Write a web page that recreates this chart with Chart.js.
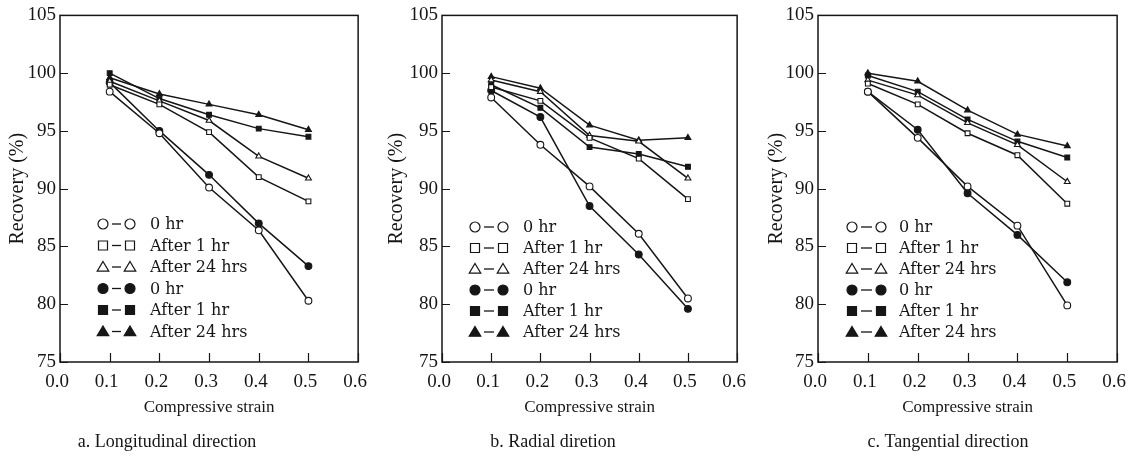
<!DOCTYPE html>
<html><head><meta charset="utf-8">
<script src="https://cdn.jsdelivr.net/npm/chart.js@4/dist/chart.umd.min.js"></script>
<style>
html,body{margin:0;padding:0;background:#fff;}
#wrap{position:relative;width:1138px;height:460px;overflow:hidden;}
.pane{position:absolute;top:0;height:460px;}
</style></head><body>
<div id="wrap">
<div class="pane" style="left:0px;width:379px"><canvas id="ca" width="379" height="460"></canvas></div>
<div class="pane" style="left:379px;width:379px"><canvas id="cb" width="379" height="460"></canvas></div>
<div class="pane" style="left:758px;width:380px"><canvas id="cc" width="380" height="460"></canvas></div>
</div>
<script>
// ---- data ----
const strain = [0.1, 0.2, 0.3, 0.4, 0.5];
const xTickLabels = ['0.0', '0.1', '0.2', '0.3', '0.4', '0.5', '0.6'];
const yTickValues = [75, 80, 85, 90, 95, 100, 105];
const seriesLabels = ['0 hr', 'After 1 hr', 'After 24 hrs', '0 hr', 'After 1 hr', 'After 24 hrs'];
const captions = ['a. Longitudinal direction', 'b. Radial diretion', 'c. Tangential direction'];
const xAxisTitle = 'Compressive strain';
const yAxisTitle = 'Recovery (%)';

// a. Longitudinal
const longOpen0 = [98.4, 94.8, 90.1, 86.4, 80.3];
const longOpen1 = [99.0, 97.3, 94.9, 91.0, 88.9];
const longOpen24 = [99.3, 97.6, 95.9, 92.8, 90.9];
const longFilled0 = [99.2, 95.0, 91.2, 87.0, 83.3];
const longFilled1 = [100.0, 97.8, 96.4, 95.2, 94.5];
const longFilled24 = [99.6, 98.2, 97.3, 96.4, 95.1];

// b. Radial
const radOpen0 = [97.9, 93.8, 90.2, 86.1, 80.5];
const radOpen1 = [98.8, 97.6, 94.4, 92.6, 89.1];
const radOpen24 = [99.4, 98.4, 94.6, 94.1, 90.9];
const radFilled0 = [98.5, 96.2, 88.5, 84.3, 79.6];
const radFilled1 = [99.0, 97.0, 93.6, 93.0, 91.9];
const radFilled24 = [99.7, 98.7, 95.5, 94.2, 94.4];

// c. Tangential
const tanOpen0 = [98.4, 94.4, 90.2, 86.8, 79.9];
const tanOpen1 = [99.1, 97.3, 94.8, 92.9, 88.7];
const tanOpen24 = [99.4, 98.1, 95.7, 93.8, 90.6];
const tanFilled0 = [98.4, 95.1, 89.6, 86.0, 81.9];
const tanFilled1 = [99.8, 98.4, 96.0, 94.1, 92.7];
const tanFilled24 = [100.0, 99.3, 96.8, 94.7, 93.7];

// ---- styling ----
const INK = '#161616';
const SERIF = '"Liberation Serif", "DejaVu Serif", serif';
const LEG_FONT = '16px "DejaVu Serif", "Liberation Serif", serif';
const markerStyles = [
  ['circle', '#ffffff'], ['rect', '#ffffff'], ['triangle', '#ffffff'],
  ['circle', INK], ['rect', INK], ['triangle', INK]
];

function drawMarker(ctx, style, fill, x, y, r) {
  ctx.beginPath();
  if (style === 'circle') {
    ctx.arc(x, y, r, 0, Math.PI * 2);
  } else if (style === 'rect') {
    const s = r * 0.9;
    ctx.rect(x - s, y - s, 2 * s, 2 * s);
  } else {
    const h = r * 1.1;
    ctx.moveTo(x, y - h);
    ctx.lineTo(x + h * 1.05, y + h * 0.75);
    ctx.lineTo(x - h * 1.05, y + h * 0.75);
    ctx.closePath();
  }
  ctx.fillStyle = fill;
  ctx.fill();
  ctx.lineWidth = 1.2;
  ctx.strokeStyle = INK;
  ctx.stroke();
}

const frameTicks = {
  id: 'frameTicks',
  beforeDatasetsDraw(chart) {
    const {ctx, chartArea: a, scales: {x, y}} = chart;
    ctx.save();
    ctx.strokeStyle = INK;
    ctx.lineWidth = 1.5;
    ctx.strokeRect(a.left, a.top, a.right - a.left, a.bottom - a.top);
    ctx.lineWidth = 1.2;
    ctx.beginPath();
    y.ticks.forEach(t => {
      const py = Math.round(y.getPixelForValue(t.value)) + 0.5;
      ctx.moveTo(a.left, py); ctx.lineTo(a.left + 8, py);
    });
    x.ticks.forEach(t => {
      const px = Math.round(x.getPixelForValue(t.value)) + 0.5;
      ctx.moveTo(px, a.bottom); ctx.lineTo(px, a.bottom - 9);
    });
    ctx.stroke();
    ctx.restore();
  }
};

const inLegend = {
  id: 'inLegend',
  afterDatasetsDraw(chart, args, o) {
    const {ctx, chartArea: a} = chart;
    ctx.save();
    chart.data.datasets.forEach((ds, i) => {
      const yy = o.top + i * o.step;
      const x1 = a.left + o.m1, x2 = a.left + o.m2;
      ctx.strokeStyle = INK; ctx.lineWidth = 1.3;
      ctx.beginPath(); ctx.moveTo(x1 + 9, yy); ctx.lineTo(x2 - 9, yy); ctx.stroke();
      drawMarker(ctx, markerStyles[i][0], markerStyles[i][1], x1, yy, 5);
      drawMarker(ctx, markerStyles[i][0], markerStyles[i][1], x2, yy, 5);
      ctx.fillStyle = INK; ctx.font = LEG_FONT;
      ctx.textAlign = 'left'; ctx.textBaseline = 'middle';
      ctx.fillText(ds.label, a.left + o.tx, yy + 1);
    });
    ctx.restore();
  }
};

const captionPlugin = {
  id: 'caption',
  afterDraw(chart, args, o) {
    const ctx = chart.ctx;
    ctx.save();
    ctx.font = '18px ' + SERIF; ctx.fillStyle = INK;
    ctx.textAlign = 'center'; ctx.textBaseline = 'middle';
    ctx.fillText(o.text, o.cx, o.cy);
    ctx.restore();
  }
};

function makeChart(id, vals, opt) {
  return new Chart(document.getElementById(id), {
    type: 'line',
    data: {
      datasets: vals.map((v, i) => ({
        label: seriesLabels[i],
        data: strain.map((s, j) => ({x: s, y: v[j]})),
        borderColor: INK, borderWidth: 1.5,
        pointStyle: markerStyles[i][0], pointRadius: 3.4,
        pointBackgroundColor: markerStyles[i][1], pointBorderColor: INK, pointBorderWidth: 1.1,
        tension: 0, fill: false
      }))
    },
    options: {
      responsive: false, animation: false, devicePixelRatio: 1,
      layout: {padding: {top: opt.top, right: opt.right, left: 0, bottom: 28}},
      plugins: {
        legend: {display: false}, tooltip: {enabled: false}, title: {display: false},
        inLegend: opt.legend,
        caption: {text: opt.caption, cx: opt.capX, cy: 442}
      },
      scales: {
        x: {
          type: 'linear', min: 0, max: 0.6,
          afterFit: s => { s.height = 70; },
          grid: {display: false, drawTicks: false}, border: {display: false},
          afterBuildTicks: s => { s.ticks = xTickLabels.map((_, k) => ({value: k / 10})); },
          ticks: {
            autoSkip: false, maxRotation: 0, padding: 9, labelOffset: -3,
            callback: (v, k) => xTickLabels[k],
            font: {family: SERIF, size: 19}, color: INK
          },
          title: {display: true, text: xAxisTitle, font: {family: SERIF, size: 17}, color: INK, padding: {top: 0, bottom: 14}}
        },
        y: {
          min: 75, max: 105,
          afterFit: s => { s.width = opt.yw; },
          afterBuildTicks: s => { s.ticks = yTickValues.map(v => ({value: v})); },
          grid: {display: false, drawTicks: false}, border: {display: false},
          ticks: {padding: 4, font: {family: SERIF, size: 19}, color: INK},
          title: {display: true, text: yAxisTitle, font: {family: SERIF, size: 20}, color: INK, padding: {top: opt.yt, bottom: 0}}
        }
      }
    },
    plugins: [frameTicks, inLegend, captionPlugin]
  });
}

makeChart('ca', [longOpen0, longOpen1, longOpen24, longFilled0, longFilled1, longFilled24], {
  top: 14, right: 15, yw: 60, yt: 6, caption: captions[0], capX: 167,
  legend: {m1: 43, m2: 70, tx: 90, top: 224, step: 21.5}
});
makeChart('cb', [radOpen0, radOpen1, radOpen24, radFilled0, radFilled1, radFilled24], {
  top: 15, right: 13, yw: 63, yt: 6, caption: captions[1], capX: 174,
  legend: {m1: 33, m2: 61, tx: 81, top: 227, step: 21}
});
makeChart('cc', [tanOpen0, tanOpen1, tanOpen24, tanFilled0, tanFilled1, tanFilled24], {
  top: 15, right: 20, yw: 60, yt: 7, caption: captions[2], capX: 190,
  legend: {m1: 34, m2: 63, tx: 81, top: 227, step: 21}
});
</script>
</body></html>
